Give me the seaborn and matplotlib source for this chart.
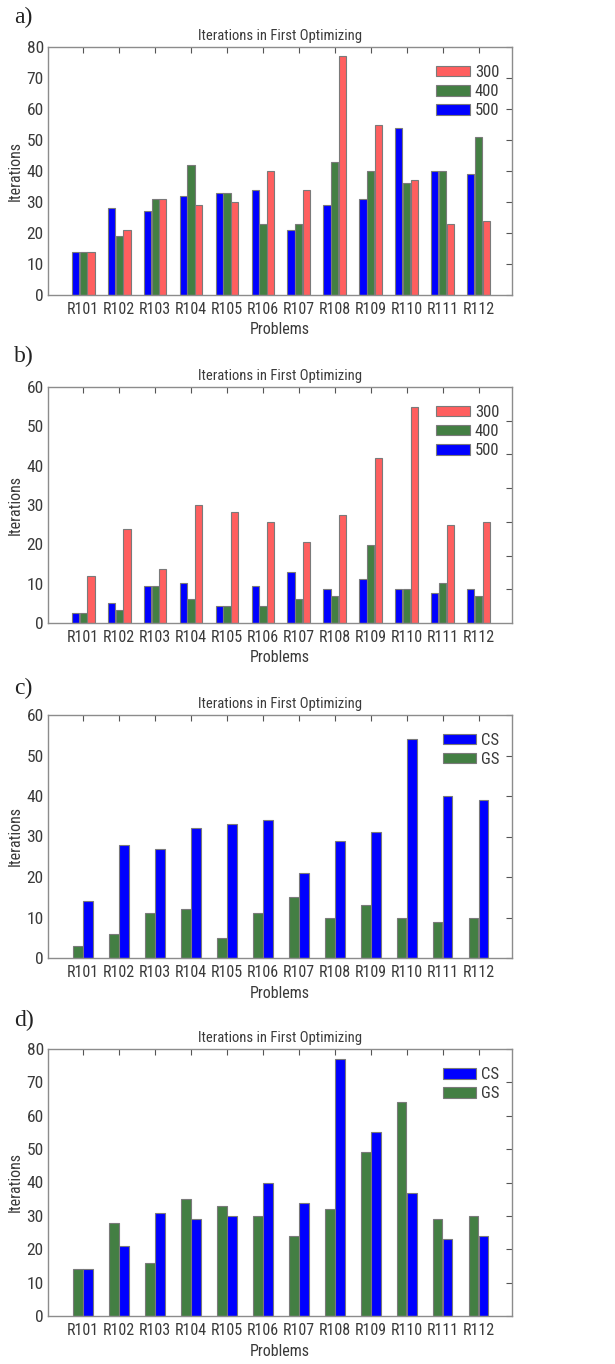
import numpy as np
import pandas as pd
import matplotlib
matplotlib.use("Agg")
import matplotlib.pyplot as plt
import seaborn as sns

# Problems on the x axis
problems = ["R101", "R102", "R103", "R104", "R105", "R106",
            "R107", "R108", "R109", "R110", "R111", "R112"]

# a) three population sizes
a_300 = [14, 21, 31, 29, 30, 40, 34, 77, 55, 37, 23, 24]
a_400 = [14, 19, 31, 42, 33, 23, 23, 43, 40, 36, 40, 51]
a_500 = [14, 28, 27, 32, 33, 34, 21, 29, 31, 54, 40, 39]

# b) three population sizes
b_300 = [14, 28, 16, 35, 33, 30, 24, 32, 49, 64, 29, 30]
b_400 = [3, 4, 11, 7, 5, 5, 7, 8, 23, 10, 12, 8]
b_500 = [3, 6, 11, 12, 5, 11, 15, 10, 13, 10, 9, 10]
b_tick_labels = ["0", "10", "20", "30", "40", "50", "60"]

# c) CS vs GS
c_cs = [14, 28, 27, 32, 33, 34, 21, 29, 31, 54, 40, 39]
c_gs = [3, 6, 11, 12, 5, 11, 15, 10, 13, 10, 9, 10]

# d) CS vs GS
d_cs = [14, 21, 31, 29, 30, 40, 34, 77, 55, 37, 23, 24]
d_gs = [14, 28, 16, 35, 33, 30, 24, 32, 49, 64, 29, 30]

RED = "#ff5f5f"
GREEN = "#437f43"
BLUE = "#0000ff"
TEXT = "#3a3a3a"

sns.set_theme(style="white")
plt.rcParams["font.family"] = ["Roboto Condensed", "DejaVu Sans"]
plt.rcParams["font.stretch"] = "condensed"
plt.rcParams["axes.edgecolor"] = "#8c8c8c"
plt.rcParams["axes.linewidth"] = 1.0

fig = plt.figure(figsize=(6.15, 13.64), dpi=100)
H = 1364.0
W = 615.0


def make_axes(top_px, bottom_px):
    return fig.add_axes([48 / W, 1 - bottom_px / H, 464 / W, (bottom_px - top_px) / H])


def draw_panel(ax, series, order, colors, legend_order, ymax, width, gap):
    df = pd.DataFrame({
        "Problem": np.tile(problems, len(series)),
        "Series": np.repeat(list(series.keys()), len(problems)),
        "Iterations": np.concatenate([series[k] for k in series]),
    })
    sns.barplot(data=df, x="Problem", y="Iterations", hue="Series",
                hue_order=order, palette=dict(zip(order, colors)),
                width=width, gap=gap, edgecolor="#7a7a7a", linewidth=0.8,
                saturation=1, errorbar=None, ax=ax)
    handles, labels = ax.get_legend_handles_labels()
    ax.get_legend().remove()
    lookup = dict(zip(labels, handles))
    ax.legend([lookup[k] for k in legend_order], legend_order,
              loc="upper right", bbox_to_anchor=(1.005, 0.988), frameon=False,
              fontsize=12, handlelength=2.0, handleheight=0.6,
              handletextpad=0.3, labelspacing=0.25, labelcolor=TEXT)
    ax.set_xlim(-0.98, 11.93)
    ax.set_ylim(0, ymax)
    ax.set_title("Iterations in First Optimizing", fontsize=10.5,
                 color=TEXT, pad=5)
    ax.set_xlabel("Problems", fontsize=11.5, color=TEXT, labelpad=4)
    ax.set_ylabel("Iterations", fontsize=11.5, color=TEXT, labelpad=3)
    ax.tick_params(axis="both", which="both", direction="in", top=True,
                   right=True, length=4, width=0.8, color="#555555",
                   labelcolor=TEXT, pad=3)
    ax.tick_params(axis="x", labelsize=11.5, pad=5)
    ax.tick_params(axis="y", labelsize=12.5)
    for s in ax.spines.values():
        s.set_visible(True)


# a)
ax_a = make_axes(47, 295)
draw_panel(ax_a, {"300": a_300, "400": a_400, "500": a_500},
           ["500", "400", "300"], [BLUE, GREEN, RED], ["300", "400", "500"],
           80, 0.65, 0.08)
ax_a.set_yticks(np.arange(0, 81, 10))

# b) tick marks every 10, labels spread over the axis as printed
ax_b = make_axes(387, 623)
draw_panel(ax_b, {"300": b_300, "400": b_400, "500": b_500},
           ["500", "400", "300"], [BLUE, GREEN, RED], ["300", "400", "500"],
           70, 0.65, 0.08)
ax_b.set_yticks(np.linspace(0, 70, len(b_tick_labels)))
ax_b.set_yticklabels(b_tick_labels)
ax_b.set_yticks(np.arange(0, 71, 10), minor=True)
ax_b.tick_params(axis="y", which="major", length=0)

# c)
ax_c = make_axes(715, 958)
draw_panel(ax_c, {"CS": c_cs, "GS": c_gs},
           ["GS", "CS"], [GREEN, BLUE], ["CS", "GS"], 60, 0.56, 0.04)
ax_c.set_yticks(np.arange(0, 61, 10))

# d)
ax_d = make_axes(1049, 1316)
draw_panel(ax_d, {"CS": d_cs, "GS": d_gs},
           ["GS", "CS"], [GREEN, BLUE], ["CS", "GS"], 80, 0.56, 0.04)
ax_d.set_yticks(np.arange(0, 81, 10))

for label, y_px in [("a)", 17), ("b)", 356), ("c)", 688), ("d)", 1020)]:
    fig.text(14 / W, 1 - y_px / H, label, ha="left", va="center",
             fontsize=17, family=["Liberation Serif", "DejaVu Serif"],
             stretch="normal", weight="normal", color="#222222")

fig.savefig("out.png", dpi=100, facecolor="white")
